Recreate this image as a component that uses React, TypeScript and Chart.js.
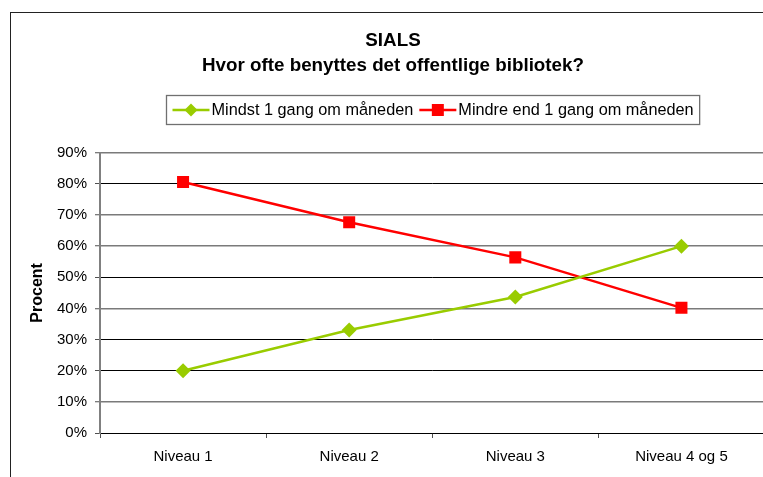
import React, { useEffect, useRef } from 'react';
import { Chart, registerables } from 'chart.js';

Chart.register(...registerables);

// ---- Data ----
const categories = ['Niveau 1', 'Niveau 2', 'Niveau 3', 'Niveau 4 og 5'];
const seriesNames = ['Mindst 1 gang om måneden', 'Mindre end 1 gang om måneden'];
const mindstValues = [20, 33.1, 43.7, 60];
const mindreValues = [80.6, 67.7, 56.4, 40.2];
const titleLines = ['SIALS', 'Hvor ofte benyttes det offentlige bibliotek?'];
const yAxisTitle = 'Procent';
const yMin = 0;
const yMax = 90;
const yStep = 10;

// ---- Styles ----
const FONT = "'Liberation Sans', Arial, Helvetica, sans-serif";
const GREEN = '#99CC00';
const RED = '#FF0000';
const DARK_GRID_VALUES = [0, 20, 30, 50, 80];

function drawDiamond(ctx: CanvasRenderingContext2D, x: number, y: number, r: number, color: string) {
  ctx.beginPath();
  ctx.moveTo(x, y - r);
  ctx.lineTo(x + r, y);
  ctx.lineTo(x, y + r);
  ctx.lineTo(x - r, y);
  ctx.closePath();
  ctx.fillStyle = color;
  ctx.fill();
}

function drawSquare(ctx: CanvasRenderingContext2D, x: number, y: number, half: number, color: string) {
  ctx.fillStyle = color;
  ctx.fillRect(x - half, y - half, half * 2, half * 2);
}

const excelLegend = {
  id: 'excelLegend',
  afterDraw(chart: any) {
    const { ctx, chartArea } = chart;
    ctx.save();
    ctx.font = `16.3px ${FONT}`;
    const lineLen = 37;
    const gap = 2;
    const itemGap = 6;
    const pad = 6;
    const colors = [GREEN, RED];
    const widths = seriesNames.map((t) => ctx.measureText(t).width);
    const total = pad * 2 + itemGap + widths.reduce((a, w) => a + lineLen + gap + w, 0);
    const cx = (chartArea.left + chartArea.right) / 2;
    const boxLeft = Math.round(cx - total / 2) + 0.5;
    const boxTop = 82.5;
    const boxH = 29;
    ctx.strokeStyle = '#707070';
    ctx.lineWidth = 1.3;
    ctx.strokeRect(boxLeft, boxTop, total, boxH);
    const cy = boxTop + boxH / 2;
    let x = boxLeft + pad;
    seriesNames.forEach((name, i) => {
      ctx.strokeStyle = colors[i];
      ctx.lineWidth = 2.5;
      ctx.beginPath();
      ctx.moveTo(x, cy);
      ctx.lineTo(x + lineLen, cy);
      ctx.stroke();
      if (i === 0) drawDiamond(ctx, x + lineLen / 2, cy, 6.5, colors[i]);
      else drawSquare(ctx, x + lineLen / 2, cy, 6, colors[i]);
      ctx.fillStyle = '#000';
      ctx.textBaseline = 'middle';
      ctx.textAlign = 'left';
      ctx.fillText(name, x + lineLen + gap, cy + 0.5);
      x += lineLen + gap + widths[i] + itemGap;
    });
    ctx.restore();
  },
};

export default function App() {
  const canvasRef = useRef<HTMLCanvasElement | null>(null);

  useEffect(() => {
    if (!canvasRef.current) return;
    const chart = new Chart(canvasRef.current, {
      type: 'line',
      data: {
        labels: categories,
        datasets: [
          {
            label: seriesNames[0],
            data: mindstValues,
            borderColor: GREEN,
            backgroundColor: GREEN,
            borderWidth: 2.5,
            pointStyle: 'rectRot',
            pointRadius: 7.5,
            pointBorderWidth: 0,
            pointBackgroundColor: GREEN,
            tension: 0,
            fill: false,
          },
          {
            label: seriesNames[1],
            data: mindreValues,
            borderColor: RED,
            backgroundColor: RED,
            borderWidth: 2.5,
            pointStyle: 'rect',
            pointRadius: 8.5,
            pointBorderWidth: 0,
            pointBackgroundColor: RED,
            tension: 0,
            fill: false,
          },
        ],
      },
      options: {
        responsive: false,
        animation: false,
        devicePixelRatio: 1,
        layout: { padding: { left: 2, right: 0, top: 0, bottom: 0 } },
        plugins: {
          legend: { display: false },
          tooltip: { enabled: false },
          title: {
            display: true,
            text: titleLines,
            color: '#000',
            font: { family: FONT, size: 18.8, weight: 'bold', lineHeight: 1.35 },
            padding: { top: 15, bottom: 74 },
          },
        },
        scales: {
          x: {
            type: 'category',
            offset: true,
            grid: {
              offset: true,
              drawOnChartArea: false,
              drawTicks: true,
              tickLength: 5,
              color: '#505050',
            },
            border: { display: true, color: '#000', width: 1 },
            ticks: {
              color: '#000',
              font: { family: FONT, size: 15 },
              padding: 10,
              maxRotation: 0,
              autoSkip: false,
            },
            afterFit: (s: any) => {
              s.height = 44;
            },
          },
          y: {
            min: yMin,
            max: yMax,
            ticks: {
              stepSize: yStep,
              color: '#000',
              font: { family: FONT, size: 15 },
              padding: 8,
              callback: (v: any) => `${v}%`,
            },
            grid: {
              color: (c: any) =>
                c.tick && DARK_GRID_VALUES.includes(Math.round(c.tick.value)) ? '#000' : '#7a7a7a',
              lineWidth: (c: any) =>
                c.tick && DARK_GRID_VALUES.includes(Math.round(c.tick.value)) ? 1 : 1.5,
              tickLength: 5,
              tickColor: '#505050',
              tickWidth: 1,
            },
            border: { display: true, color: '#808080', width: 2 },
            title: {
              display: true,
              text: yAxisTitle,
              color: '#000',
              font: { family: FONT, size: 16, weight: 'bold', lineHeight: 1.2 },
              padding: { top: 15, bottom: 0 },
            },
            afterFit: (s: any) => {
              s.width = 87;
            },
          },
        },
      },
      plugins: [excelLegend],
    } as any);
    return () => chart.destroy();
  }, []);

  return (
    <div
      style={{
        position: 'fixed',
        left: 0,
        top: 0,
        width: 763,
        height: 477,
        overflow: 'hidden',
        background: '#fff',
      }}
    >
      <div
        style={{
          position: 'absolute',
          left: 10,
          top: 12,
          width: 800,
          height: 500,
          border: '1px solid #222',
          boxSizing: 'border-box',
        }}
      >
        <canvas
          ref={canvasRef}
          width={762}
          height={464}
          style={{ position: 'absolute', left: 0, top: 0, width: 762, height: 464 }}
        />
      </div>
    </div>
  );
}
